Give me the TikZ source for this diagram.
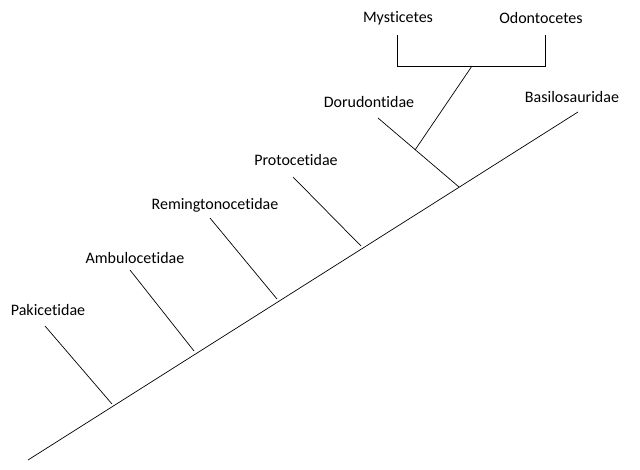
\documentclass[tikz,border=0pt]{standalone}
\usepackage{fontspec}
\setmainfont[Ligatures=NoCommon]{Carlito}
\begin{document}
\begin{tikzpicture}[x=1pt,y=-1pt,line width=0.7pt,
  lbl/.style={font=\fontsize{16}{18}\selectfont}]
\useasboundingbox (0,0) rectangle (640,470);
\coordinate (root) at (28,460);
\coordinate (top) at (578,112);
\draw (root) -- (top);
\coordinate (p0) at (112,404); \coordinate (p1) at (45,326);
\coordinate (a0) at (194,351); \coordinate (a1) at (130,270);
\coordinate (r0) at (277,299); \coordinate (r1) at (210,218);
\coordinate (c0) at (361,246); \coordinate (c1) at (293,177);
\coordinate (d0) at (459,187); \coordinate (d1) at (378,118);
\coordinate (m0) at (415,150); \coordinate (m1) at (472,66);
\draw (p0)--(p1) (a0)--(a1) (r0)--(r1) (c0)--(c1) (d0)--(d1) (m0)--(m1);
\draw (397,35) -- (397,66) -- (545,66) -- (545,35);
\node[lbl] (n1) at (398,18) {Mysticetes};
\node[lbl] (n2) at (541,18) {Odontocetes};
\node[lbl] (n3) at (369,102) {Dorudontidae};
\node[lbl] (n4) at (572,97) {Basilosauridae};
\node[lbl] (n5) at (296,160) {Protocetidae};
\node[lbl] (n6) at (215,205) {Remingtonocetidae};
\node[lbl] (n7) at (135,258) {Ambulocetidae};
\node[lbl] (n8) at (48,310) {Pakicetidae};
\end{tikzpicture}
\end{document}
